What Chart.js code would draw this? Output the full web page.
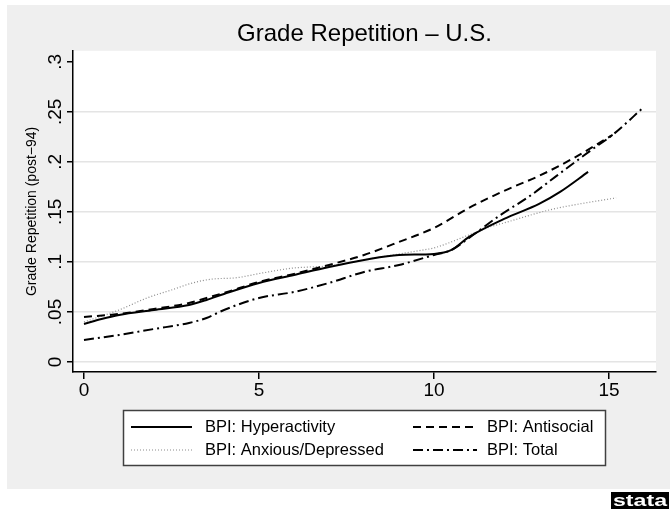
<!DOCTYPE html>
<html>
<head>
<meta charset="utf-8">
<script src="https://cdn.jsdelivr.net/npm/chart.js@4"></script>
<style>
  html, body { margin: 0; padding: 0; background: #fff; }
  canvas { display: block; }
</style>
</head>
<body>
<canvas id="cv-grade" width="670" height="513"></canvas>
<script>
// lowess-smoothed grade repetition rates by BPI score
const hyperX = [0, 0.5, 1, 2, 3, 3.5, 4, 5, 6, 7, 8, 9, 10, 10.5, 11, 12, 13, 13.6, 14.4];
const hyperY = [0.038, 0.043, 0.047, 0.052, 0.057, 0.062, 0.068, 0.079, 0.087, 0.095, 0.102, 0.107, 0.108, 0.112, 0.125, 0.143, 0.158, 0.170, 0.190];

const antiX = [0, 1, 2, 3, 3.5, 4, 5, 6, 7, 8, 9, 10, 11, 12, 13, 14, 15.1];
const antiY = [0.045, 0.048, 0.053, 0.059, 0.064, 0.069, 0.080, 0.088, 0.097, 0.107, 0.120, 0.134, 0.154, 0.171, 0.186, 0.204, 0.227];

const anxX = [0, 1, 1.8, 2.5, 3.1, 3.7, 4.3, 5.1, 6, 6.5, 7, 8, 9, 9.7, 10, 11, 11.6, 12, 13.3, 14, 15.2];
const anxY = [0.040, 0.052, 0.064, 0.072, 0.079, 0.083, 0.084, 0.089, 0.094, 0.095, 0.096, 0.102, 0.108, 0.112, 0.114, 0.127, 0.135, 0.139, 0.152, 0.157, 0.164];

const totalX = [0, 1, 2, 3, 3.5, 4, 5, 6, 7, 8, 9, 10, 10.5, 11, 11.9, 12.7, 13.5, 14.5, 15.1, 16];
const totalY = [0.022, 0.027, 0.033, 0.039, 0.044, 0.052, 0.064, 0.070, 0.079, 0.090, 0.097, 0.107, 0.112, 0.124, 0.147, 0.165, 0.186, 0.212, 0.227, 0.255];

const seriesNames = ['BPI: Hyperactivity', 'BPI: Antisocial', 'BPI: Anxious/Depressed', 'BPI: Total'];

const xTicks = [0, 5, 10, 15];
const yTicks = [0, 0.05, 0.1, 0.15, 0.2, 0.25, 0.3];
const yTickLabels = ['0', '.05', '.1', '.15', '.2', '.25', '.3'];

const FONT = '"Liberation Sans", Arial, Helvetica, sans-serif';
Chart.defaults.font.family = FONT;
Chart.defaults.color = '#000';

function pts(xs, ys) {
    return xs.map((x, i) => ({ x: x, y: ys[i] }));
}

function line(label, xs, ys, color, width, dash) {
    return {
        label: label,
        data: pts(xs, ys),
        borderColor: color,
        borderWidth: width,
        borderDash: dash,
        pointRadius: 0,
        fill: false,
        cubicInterpolationMode: 'monotone'
    };
}

// grey graph region, white plot region
const backdrop = {
    id: 'backdrop',
    beforeDraw(chart) {
        const ctx = chart.ctx;
        const a = chart.chartArea;
        ctx.save();
        ctx.fillStyle = '#efefef';
        ctx.fillRect(7, 5, 663, 484);
        ctx.fillStyle = '#fff';
        ctx.fillRect(a.left, a.top, a.right - a.left, a.bottom - a.top);
        ctx.restore();
    }
};

// rotated y tick labels
const yLabels = {
    id: 'yLabels',
    afterDraw(chart) {
        const ctx = chart.ctx;
        const ys = chart.scales.y;
        ctx.save();
        ctx.fillStyle = '#000';
        ctx.font = '19px ' + FONT;
        ctx.textAlign = 'center';
        ctx.textBaseline = 'alphabetic';
        yTicks.forEach((v, i) => {
            ctx.save();
            ctx.translate(61, ys.getPixelForValue(v));
            ctx.rotate(-Math.PI / 2);
            ctx.fillText(yTickLabels[i], 0, 0);
            ctx.restore();
        });
        ctx.restore();
    }
};

// two-column legend box under the plot
const boxLegend = {
    id: 'boxLegend',
    afterDraw(chart) {
        const ctx = chart.ctx;
        const slots = [
            { sx: 131, ex: 192, tx: 205, y: 427 },
            { sx: 413, ex: 477, tx: 487, y: 427 },
            { sx: 131, ex: 192, tx: 205, y: 450 },
            { sx: 413, ex: 477, tx: 487, y: 450 }
        ];
        ctx.save();
        ctx.fillStyle = '#fff';
        ctx.fillRect(123, 410, 483, 56);
        ctx.strokeStyle = '#404040';
        ctx.lineWidth = 1.5;
        ctx.strokeRect(123.5, 410.5, 482, 55);
        ctx.font = '16.5px ' + FONT;
        ctx.textBaseline = 'middle';
        ctx.textAlign = 'left';
        chart.data.datasets.forEach((ds, i) => {
            const s = slots[i];
            ctx.beginPath();
            ctx.strokeStyle = ds.borderColor;
            ctx.lineWidth = ds.borderWidth;
            ctx.setLineDash(ds.borderDash || []);
            ctx.moveTo(s.sx, s.y);
            ctx.lineTo(s.ex, s.y);
            ctx.stroke();
            ctx.setLineDash([]);
            ctx.fillStyle = '#000';
            ctx.fillText(ds.label, s.tx, s.y + 0.5);
        });
        ctx.restore();
    }
};

const logo = {
    id: 'logo',
    afterDraw(chart) {
        const ctx = chart.ctx;
        ctx.save();
        ctx.fillStyle = '#000';
        ctx.fillRect(611, 492, 58, 17);
        ctx.fillStyle = '#fff';
        ctx.font = 'bold 17px ' + FONT;
        ctx.textBaseline = 'alphabetic';
        const w = ctx.measureText('stata').width;
        ctx.translate(613, 506);
        ctx.scale(54 / w, 1);
        ctx.fillText('stata', 0, 0);
        ctx.restore();
    }
};

const gradeChart = new Chart(document.getElementById('cv-grade'), {
    type: 'line',
    data: {
        datasets: [
            line(seriesNames[0], hyperX, hyperY, '#000', 2, []),
            line(seriesNames[1], antiX, antiY, '#000', 2, [8, 5]),
            line(seriesNames[2], anxX, anxY, '#8c8c8c', 1.2, [1, 2]),
            line(seriesNames[3], totalX, totalY, '#000', 2, [10, 4, 2, 4])
        ]
    },
    options: {
        responsive: false,
        animation: false,
        devicePixelRatio: 1,
        layout: { padding: { left: 0, top: 0, right: 14, bottom: 111 } },
        plugins: {
            legend: { display: false },
            tooltip: { enabled: false },
            title: {
                display: true,
                text: 'Grade Repetition – U.S.',
                fullSize: false,
                font: { size: 24, weight: 'normal' },
                color: '#000',
                padding: { top: 20, bottom: 2 }
            }
        },
        scales: {
            x: {
                type: 'linear',
                min: -0.314,
                max: 16.34,
                afterBuildTicks: s => { s.ticks = xTicks.map(v => ({ value: v })); },
                afterFit: s => { s.height = 30; },
                grid: { drawOnChartArea: false, color: '#000', tickLength: 7, lineWidth: 1.5 },
                border: { color: '#000', width: 1.5 },
                ticks: { font: { size: 19 }, color: '#000', padding: 0, maxRotation: 0 }
            },
            y: {
                type: 'linear',
                min: -0.01,
                max: 0.311,
                afterBuildTicks: s => { s.ticks = yTicks.map(v => ({ value: v })); },
                afterFit: s => { s.width = 73; },
                grid: {
                    color: c => (c.tick && c.tick.value === 0.3) ? 'rgba(0,0,0,0)' : '#e4e4e4',
                    tickColor: '#000',
                    tickLength: 6,
                    lineWidth: 1.5
                },
                border: { color: '#000', width: 1.5 },
                ticks: { display: false },
                title: {
                    display: true,
                    text: 'Grade Repetition (post−94)',
                    font: { size: 14 },
                    color: '#000',
                    padding: { top: 24, bottom: 0 }
                }
            }
        }
    },
    plugins: [backdrop, yLabels, boxLegend, logo]
});
</script>
</body>
</html>
